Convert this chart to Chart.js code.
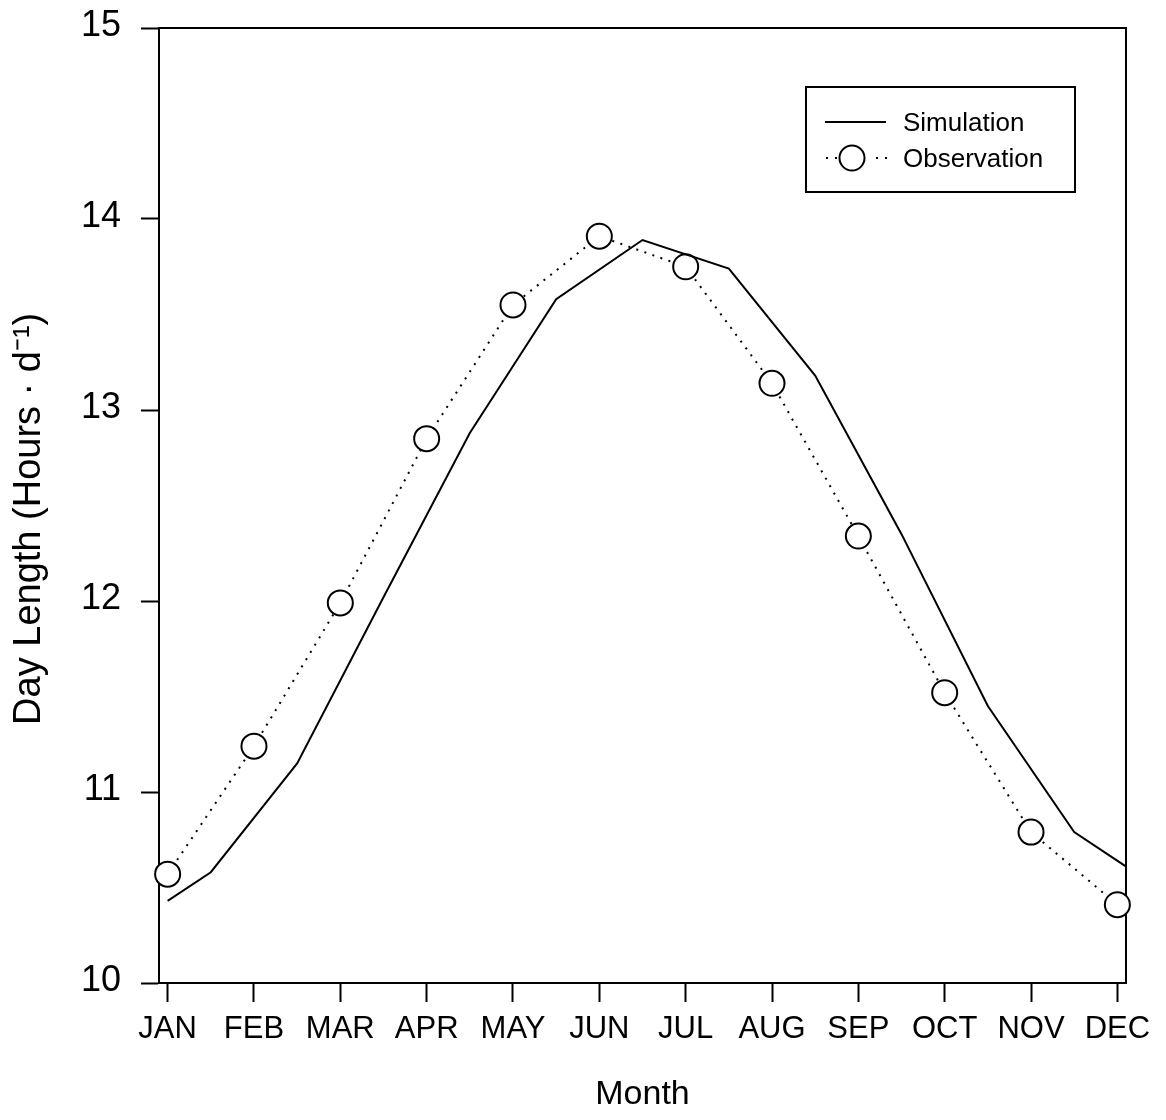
<!DOCTYPE html>
<html>
<head>
<meta charset="utf-8">
<script src="https://cdn.jsdelivr.net/npm/chart.js@4.4.1/dist/chart.umd.min.js"></script>
<style>
  html, body { margin: 0; padding: 0; background: #fff; }
  #wrap { width: 1166px; height: 1120px; }
</style>
</head>
<body>
<div id="wrap"><canvas id="dayChart"></canvas></div>
<script>
(() => {
  // Datos
  const months = ["JAN", "FEB", "MAR", "APR", "MAY", "JUN", "JUL", "AUG", "SEP", "OCT", "NOV", "DEC"];
  const simX = [0, 0.5, 1.5, 2.5, 3.5, 4.5, 5.5, 6.5, 7.5, 8.5, 9.5, 10.5, 11.5];
  const simY = [10.43, 10.58, 11.15, 12.02, 12.88, 13.58, 13.89, 13.74, 13.18, 12.35, 11.45, 10.79, 10.49];
  const obsY = [10.57, 11.24, 11.99, 12.85, 13.55, 13.91, 13.75, 13.14, 12.34, 11.52, 10.79, 10.41];
  const yTicks = [10, 11, 12, 13, 14, 15];

  const fam = '"Liberation Sans", Arial, Helvetica, sans-serif';

  // Marco superior y derecho del área del gráfico
  const marco = {
    id: "marco",
    beforeDatasetsDraw(chart) {
      const { ctx, chartArea: a } = chart;
      ctx.save();
      ctx.strokeStyle = "#000";
      ctx.lineWidth = 2;
      ctx.beginPath();
      ctx.moveTo(a.left, a.top);
      ctx.lineTo(a.right, a.top);
      ctx.lineTo(a.right, a.bottom);
      ctx.stroke();
      ctx.restore();
    }
  };

  // Leyenda con recuadro, como en la figura original
  const leyenda = {
    id: "leyenda",
    afterDraw(chart) {
      const ctx = chart.ctx;
      const ds = chart.data.datasets;
      ctx.save();
      ctx.strokeStyle = "#000";
      ctx.lineWidth = 2;
      ctx.strokeRect(806, 87, 269, 105);

      // Simulation
      ctx.beginPath();
      ctx.moveTo(825, 122);
      ctx.lineTo(886, 122);
      ctx.stroke();

      // Observation
      ctx.setLineDash([2, 7]);
      ctx.beginPath();
      ctx.moveTo(826, 158);
      ctx.lineTo(840, 158);
      ctx.moveTo(876, 158);
      ctx.lineTo(890, 158);
      ctx.stroke();
      ctx.setLineDash([]);
      ctx.beginPath();
      ctx.arc(852, 158, 12.5, 0, Math.PI * 2);
      ctx.fillStyle = "#fff";
      ctx.fill();
      ctx.stroke();

      ctx.fillStyle = "#000";
      ctx.font = "26px " + fam;
      ctx.textAlign = "left";
      ctx.textBaseline = "middle";
      ctx.fillText(ds[0].label, 903, 124);
      ctx.fillText(ds[1].label, 903, 160);
      ctx.restore();
    }
  };

  const ctx = document.getElementById("dayChart").getContext("2d");
  new Chart(ctx, {
    type: "line",
    data: {
      datasets: [
        {
          label: "Simulation",
          data: simX.map((x, i) => ({ x: x, y: simY[i] })),
          borderColor: "#000",
          borderWidth: 2,
          pointRadius: 0,
          tension: 0,
          fill: false
        },
        {
          label: "Observation",
          data: obsY.map((y, i) => ({ x: i, y: y })),
          borderColor: "#000",
          borderWidth: 2,
          borderDash: [2, 6.5],
          pointRadius: 12.5,
          pointBorderWidth: 2,
          pointBackgroundColor: "#fff",
          pointBorderColor: "#000",
          tension: 0,
          fill: false,
          clip: false
        }
      ]
    },
    plugins: [marco, leyenda],
    options: {
      responsive: true,
      maintainAspectRatio: false,
      animation: false,
      layout: { padding: { top: 28, right: 40, left: 0, bottom: 0 } },
      plugins: {
        legend: { display: false },
        tooltip: { enabled: false }
      },
      scales: {
        x: {
          type: "linear",
          min: -0.1,
          max: 11.1,
          afterBuildTicks: (scale) => { scale.ticks = months.map((m, i) => ({ value: i })); },
          afterFit: (scale) => {
            scale.height = 137;
            scale.paddingLeft = 0;
            scale.paddingRight = 0;
          },
          ticks: {
            autoSkip: false,
            maxRotation: 0,
            padding: 9,
            color: "#000",
            font: { family: fam, size: 31 },
            callback: (v) => months[v]
          },
          grid: { drawOnChartArea: false, drawTicks: true, tickLength: 19, tickWidth: 2, color: "#000" },
          border: { display: true, color: "#000", width: 2 },
          title: {
            display: true,
            text: "Month",
            color: "#000",
            font: { family: fam, size: 34 },
            padding: { top: 0, bottom: 5 }
          }
        },
        y: {
          min: 10,
          max: 15,
          afterBuildTicks: (scale) => { scale.ticks = yTicks.map(v => ({ value: v })); },
          afterFit: (scale) => {
            scale.width = 159;
            scale.paddingTop = 0;
            scale.paddingBottom = 0;
          },
          ticks: {
            padding: 20,
            labelOffset: -2,
            color: "#000",
            font: { family: fam, size: 36 }
          },
          grid: { drawOnChartArea: false, drawTicks: true, tickLength: 18, tickWidth: 2, color: "#000" },
          border: { display: true, color: "#000", width: 2 },
          title: {
            display: true,
            text: "Day Length (Hours \u00B7 d\u207B\u00B9)\u2002\u2009",
            color: "#000",
            font: { family: fam, size: 38 },
            padding: { top: 7, bottom: 0 }
          }
        }
      }
    }
  });
})();
</script>
</body>
</html>
